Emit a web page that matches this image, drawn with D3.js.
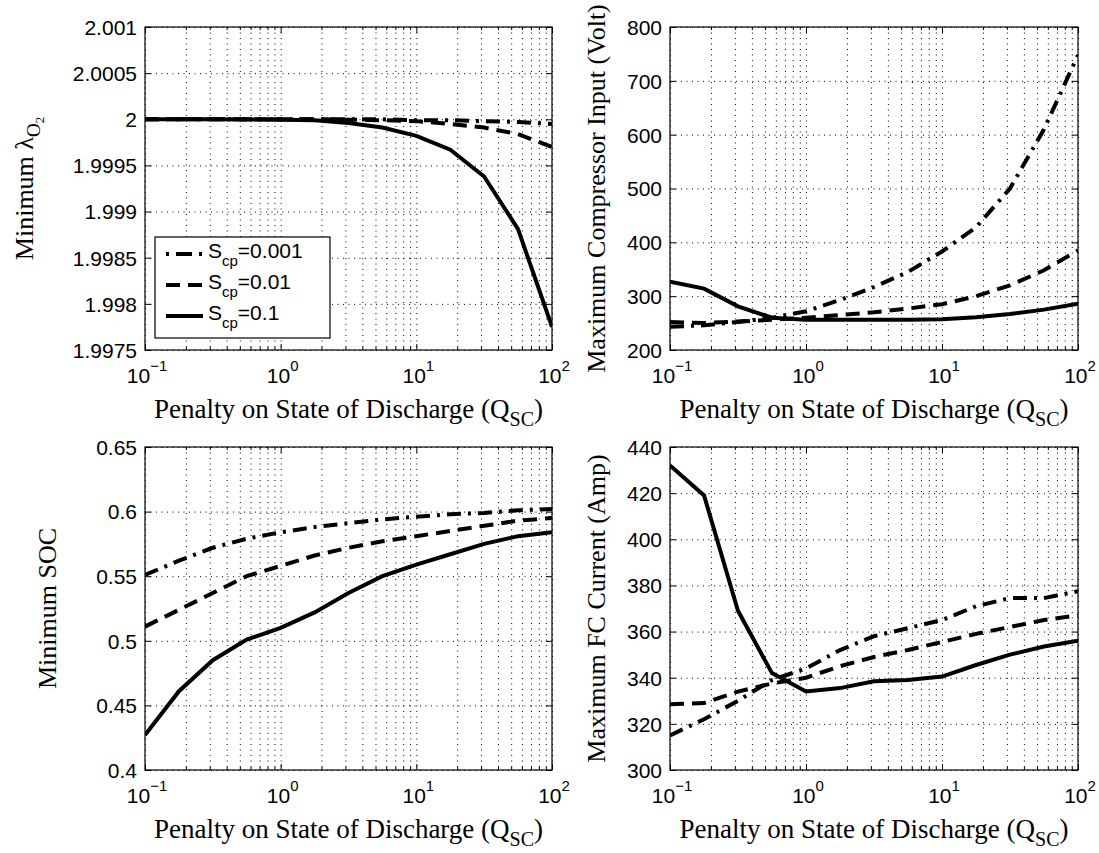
<!DOCTYPE html>
<html>
<head>
<meta charset="utf-8">
<script src="https://cdn.jsdelivr.net/npm/d3@7"></script>
<style>
body { margin: 0; background: #fff; }
.ticklab { font-family: "Liberation Sans", Arial, sans-serif; font-size: 21px; fill: #000; }
.title { font-family: "Liberation Serif", "Times New Roman", serif; font-size: 27px; fill: #000; }
.ytitle { font-size: 26px; }
</style>
</head>
<body>
<svg id="chart" width="1099" height="853"></svg>
<script>
// penalty on state of discharge (x, log axis)
const qsc = [0.1, 0.178, 0.316, 0.562, 1, 1.78, 3.16, 5.62, 10, 17.8, 31.6, 56.2, 100];
const xMajor = [0.1, 1, 10, 100];
const xExp = ["\u22121", "0", "1", "2"];

const seriesNames = ["S_cp=0.001", "S_cp=0.01", "S_cp=0.1"];

// minimum lambda O2
const lambdaS001 = [2, 2, 2, 2, 2, 2, 2, 2, 1.99999, 1.99999, 1.99998, 1.99997, 1.99995];
const lambdaS01 = [2, 2, 2, 2, 2, 2, 1.999995, 1.99999, 1.99998, 1.99995, 1.99991, 1.99984, 1.9997];
const lambdaS1 = [2, 2, 2, 1.999998, 1.999995, 1.99999, 1.99996, 1.99991, 1.99982, 1.99967, 1.99938, 1.99881, 1.99775];
const lambdaTicks = [1.9975, 1.998, 1.9985, 1.999, 1.9995, 2, 2.0005, 2.001];
const lambdaLabels = ["1.9975", "1.998", "1.9985", "1.999", "1.9995", "2", "2.0005", "2.001"];

// maximum compressor input (Volt)
const compS001 = [243, 246, 252, 260, 272, 293, 317, 345, 383, 428, 500, 610, 748];
const compS01 = [252, 250, 253, 256, 260, 265, 270, 277, 285, 300, 320, 348, 385];
const compS1 = [327, 314, 281, 260, 256, 256, 256, 256, 257, 261, 267, 275, 286];
const compTicks = [200, 300, 400, 500, 600, 700, 800];

// minimum SOC
const socS001 = [0.551, 0.562, 0.572, 0.579, 0.584, 0.588, 0.591, 0.594, 0.596, 0.598, 0.599, 0.601, 0.602];
const socS01 = [0.511, 0.524, 0.537, 0.55, 0.558, 0.566, 0.572, 0.577, 0.581, 0.585, 0.589, 0.593, 0.595];
const socS1 = [0.427, 0.461, 0.485, 0.501, 0.51, 0.522, 0.537, 0.55, 0.559, 0.567, 0.575, 0.581, 0.584];
const socTicks = [0.4, 0.45, 0.5, 0.55, 0.6, 0.65];
const socLabels = ["0.4", "0.45", "0.5", "0.55", "0.6", "0.65"];

// maximum FC current (Amp)
const fcS001 = [315, 322, 330, 339, 344, 352, 358, 361.5, 365, 371, 374.5, 374.5, 377.5];
const fcS01 = [328.5, 329, 334, 337.5, 340, 345, 349, 352, 355.5, 359, 362, 365, 367];
const fcS1 = [432, 419, 369, 342, 334, 335.5, 338.5, 339, 340.5, 345.5, 350, 353.5, 356];
const fcTicks = [300, 320, 340, 360, 380, 400, 420, 440];

const dashes = ["14,7,3,7", "14,8", null];

const svg = d3.select("#chart");
svg.append("rect").attr("width", 1099).attr("height", 853).attr("fill", "#fff");

function drawPanel(p) {
	const g = svg.append("g").attr("transform", `translate(${p.left},${p.top})`);
	const x = d3.scaleLog().domain([0.1, 100]).range([0, p.w]);
	const y = d3.scaleLinear().domain([p.yTicks[0], p.yTicks[p.yTicks.length - 1]]).range([p.h, 0]);
	const xMinor = d3.range(-1, 2).flatMap(e => d3.range(2, 10).map(m => +(m * Math.pow(10, e)).toPrecision(3)));

	// dotted grid
	const gx = g.append("g")
		.call(d3.axisBottom(x).tickValues(xMinor.concat(xMajor)).tickSize(p.h).tickFormat(""));
	const gy = g.append("g")
		.call(d3.axisLeft(y).tickValues(p.yTicks).tickSize(-p.w).tickFormat(""));
	[gx, gy].forEach(a => {
		a.select(".domain").remove();
		a.selectAll("line").attr("stroke", "#000").attr("stroke-width", 1).attr("stroke-dasharray", "1,4.5");
	});

	// lines
	const clipId = "clip" + p.id;
	g.append("clipPath").attr("id", clipId).append("rect").attr("width", p.w).attr("height", p.h);
	const line = d3.line().x(d => x(d[0])).y(d => y(d[1]));
	p.series.forEach((s, i) => {
		g.append("path")
			.datum(qsc.map((q, k) => [q, s[k]]))
			.attr("clip-path", `url(#${clipId})`)
			.attr("fill", "none")
			.attr("stroke", "#000")
			.attr("stroke-width", 4)
			.attr("stroke-dasharray", dashes[i])
			.attr("d", line);
	});

	// frame and inward ticks
	g.append("rect").attr("width", p.w).attr("height", p.h)
		.attr("fill", "none").attr("stroke", "#000").attr("stroke-width", 1.2);
	const tickAxes = [
		g.append("g").attr("transform", `translate(0,${p.h})`).call(d3.axisBottom(x).tickValues(xMajor).tickSize(-6).tickFormat("")),
		g.append("g").attr("transform", `translate(0,${p.h})`).call(d3.axisBottom(x).tickValues(xMinor).tickSize(-3).tickFormat("")),
		g.append("g").call(d3.axisTop(x).tickValues(xMajor).tickSize(-6).tickFormat("")),
		g.append("g").call(d3.axisTop(x).tickValues(xMinor).tickSize(-3).tickFormat("")),
		g.append("g").attr("transform", `translate(${p.w},0)`).call(d3.axisRight(y).tickValues(p.yTicks).tickSize(-6).tickFormat(""))
	];
	tickAxes.forEach(a => { a.select(".domain").remove(); a.selectAll("line").attr("stroke", "#000"); });

	// y tick labels
	const yl = g.append("g")
		.call(d3.axisLeft(y).tickValues(p.yTicks).tickSize(-6).tickPadding(8).tickFormat((d, i) => p.yLabels[i]));
	yl.select(".domain").remove();
	yl.selectAll("line").attr("stroke", "#000");
	yl.attr("font-family", null).attr("font-size", null);
	yl.selectAll("text").attr("class", "ticklab").attr("dy", "0.35em");

	// x tick labels 10^n
	const xl = g.selectAll(".xlab").data(xMajor).enter()
		.append("text")
		.attr("class", "ticklab")
		.attr("text-anchor", "middle")
		.attr("x", d => x(d) + 2)
		.attr("y", p.h + 33);
	xl.append("tspan").text("10");
	xl.append("tspan").attr("dy", -12).attr("font-size", 15).text((d, i) => xExp[i]);

	// x title
	const xt = g.append("text").attr("class", "title")
		.attr("text-anchor", "middle")
		.attr("x", p.w / 2).attr("y", p.h + 68);
	xt.append("tspan").text("Penalty on State of Discharge (Q");
	xt.append("tspan").attr("dy", 8).attr("font-size", 20).text("SC");
	xt.append("tspan").attr("dy", -8).text(")");

	// y title
	const yt = g.append("text").attr("class", "title ytitle")
		.attr("text-anchor", "middle")
		.attr("transform", `translate(${p.yTitleX - p.left},${p.h / 2}) rotate(-90)`);
	p.yTitle(yt);

	return { g, x, y };
}

const tl = drawPanel({
	id: 1, left: 145, top: 27, w: 407, h: 323,
	yTicks: lambdaTicks, yLabels: lambdaLabels,
	series: [lambdaS001, lambdaS01, lambdaS1], yTitleX: 33,
	yTitle: t => {
		t.append("tspan").text("Minimum \u03bb");
		t.append("tspan").attr("dy", 7).attr("font-size", 19).text("O");
		t.append("tspan").attr("dy", 4).attr("font-size", 13).text("2");
	}
});
drawPanel({
	id: 2, left: 670, top: 27, w: 408, h: 323,
	yTicks: compTicks, yLabels: compTicks.map(String),
	series: [compS001, compS01, compS1], yTitleX: 605,
	yTitle: t => t.text("Maximum Compressor Input (Volt)")
});
drawPanel({
	id: 3, left: 145, top: 447, w: 407, h: 323,
	yTicks: socTicks, yLabels: socLabels,
	series: [socS001, socS01, socS1], yTitleX: 56,
	yTitle: t => t.text("Minimum SOC")
});
drawPanel({
	id: 4, left: 670, top: 447, w: 408, h: 323,
	yTicks: fcTicks, yLabels: fcTicks.map(String),
	series: [fcS001, fcS01, fcS1], yTitleX: 605,
	yTitle: t => t.text("Maximum FC Current (Amp)")
});

// legend in the first panel
const lg = tl.g.append("g").attr("transform", "translate(10,210)");
lg.append("rect").attr("width", 175).attr("height", 101)
	.attr("fill", "#fff").attr("stroke", "#000").attr("stroke-width", 1.2);
const rows = lg.selectAll(".row").data(seriesNames).enter()
	.append("g").attr("transform", (d, i) => `translate(0,${17 + i * 31})`);
rows.append("line")
	.attr("x1", 11).attr("x2", 48).attr("y1", 0).attr("y2", 0)
	.attr("stroke", "#000").attr("stroke-width", 4)
	.attr("stroke-dasharray", (d, i) => i == 0 ? "3,7,16,7,3" : dashes[i]);
const lt = rows.append("text").attr("class", "ticklab").attr("x", 53).attr("y", 4);
lt.append("tspan").text(d => d.split("_")[0]);
lt.append("tspan").attr("dy", 8).attr("font-size", 15).text(d => d.split("_")[1].split("=")[0]);
lt.append("tspan").attr("dy", -8).text(d => "=" + d.split("=")[1]);
</script>
</body>
</html>
